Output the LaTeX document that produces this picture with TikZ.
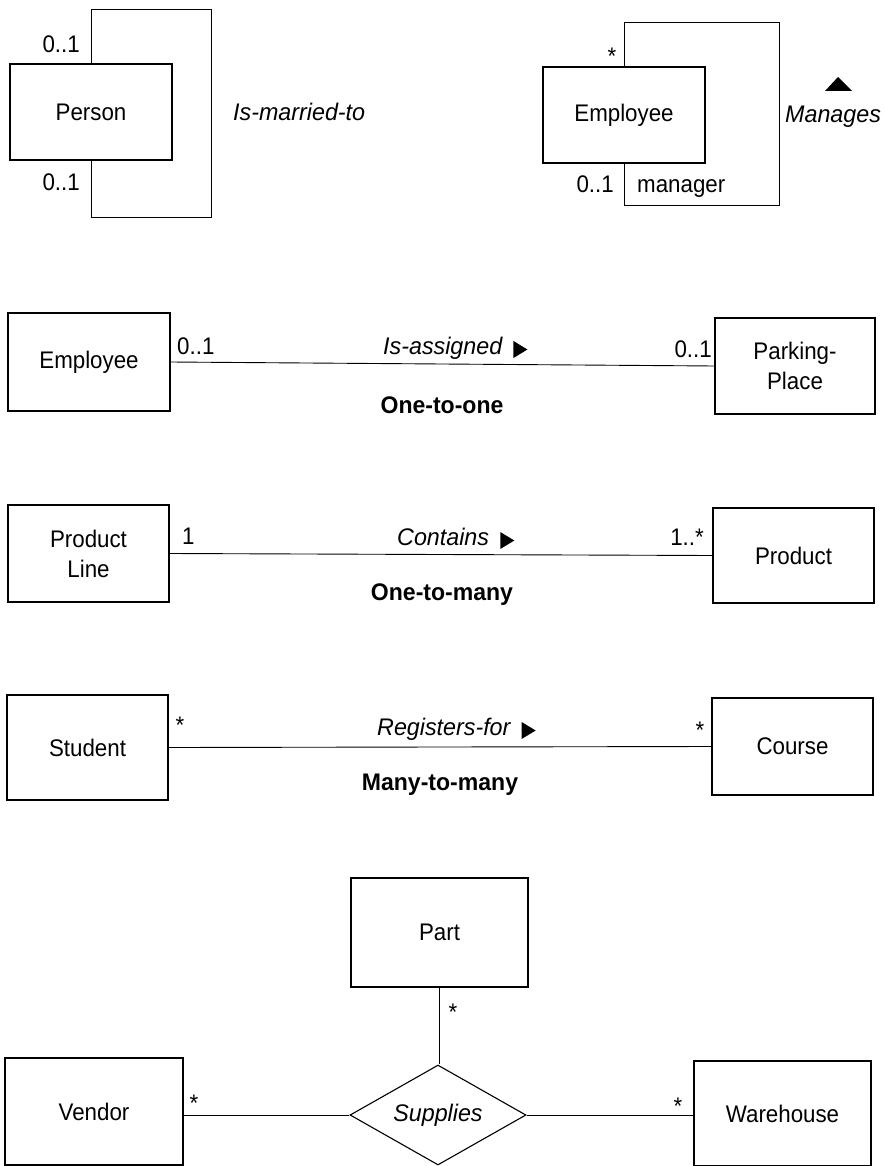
\documentclass[tikz,border=0pt]{standalone}
\usepackage{fontspec}
\setmainfont{Liberation Sans}[FakeStretch=0.93]
\newfontfamily\rolefont{Liberation Sans}[FakeStretch=0.97]
\newfontfamily\kindfont{Liberation Sans}[FakeStretch=0.96]
\usetikzlibrary{shapes.geometric,calc}
\begin{document}
\begin{tikzpicture}[x=1pt,y=-1pt,
  every node/.style={font=\fontsize{24}{30}\selectfont},
  cls/.style={draw, line width=1.1pt, inner sep=0pt, align=center},
  conn/.style={line width=0.9pt},
  mult/.style={inner sep=0pt, anchor=base},
  rolename/.style={inner sep=0pt, anchor=base west, font=\rolefont\fontsize{24}{30}\selectfont\itshape},
  kind/.style={inner sep=0pt, font=\kindfont\fontsize{24}{30}\selectfont\bfseries},
  rel/.style={draw, shape=diamond, aspect=1.76, line width=1.1pt, inner sep=0pt,
    minimum width=176pt, minimum height=100pt, font=\rolefont\fontsize{24}{30}\selectfont\itshape},
  dirmark/.style={fill=black}
]
\useasboundingbox (0,0) rectangle (885,1166);

% ---------- Is-married-to (recursive) ----------
\node[cls, minimum width=162pt, minimum height=96pt] (person) at (91,112) {Person};
\coordinate (pmA) at (211,9);
\coordinate (pmB) at (211,217);
\draw[conn] (person.north) |- (pmA) -- (pmB) -| (person.south);
\node[mult, anchor=base east] (pm1) at (80,53) {0..1};
\node[mult, anchor=base east] (pm2) at (80,191) {0..1};
\node[rolename] (pmlbl) at (233,121) {Is-married-to};

% ---------- Manages (recursive) ----------
\node[cls, minimum width=162pt, minimum height=96pt] (emp1) at (624,115) {Employee};
\coordinate (mgA) at (779,22);
\coordinate (mgB) at (779,205);
\draw[conn] (emp1.north) |- (mgA) -- (mgB) -| (emp1.south);
\node[mult] (mg1) at (612,65) {*};
\node[mult, anchor=base east] (mg2) at (614,193) {0..1};
\node[mult, anchor=base west] (mg3) at (637,193) {manager};
\node[rolename] (mglbl) at (785,123) {Manages};
\fill[dirmark] (825,91) -- (838,77) -- (852,91) -- cycle;

% ---------- One-to-one ----------
\node[cls, minimum width=162pt, minimum height=98pt] (emp2) at (89,362) {Employee};
\node[cls, minimum width=160pt, minimum height=96pt] (park) at (795,366) {Parking-\\Place};
\draw[conn] (emp2.east) -- (park.west);
\node[mult, anchor=base west] (ia1) at (177,354) {0..1};
\node[mult, anchor=base east] (ia2) at (712,357) {0..1};
\node[rolename] (isa) at (383,354) {Is-assigned};
\fill[dirmark] ($(isa.base east)+(11,-13)$) -- ($(isa.base east)+(25,-4.5)$) -- ($(isa.base east)+(11,4)$) -- cycle;
\node[kind] (k1) at (442,405) {One-to-one};

% ---------- One-to-many ----------
\node[cls, minimum width=161pt, minimum height=97pt] (pline) at (88.5,553.5) {Product\\Line};
\node[cls, minimum width=161pt, minimum height=95pt] (prod) at (793.5,555.5) {Product};
\draw[conn] (pline.east) -- (prod.west);
\node[mult, anchor=base west] (ct1) at (182,544) {1};
\node[mult, anchor=base east] (ct2) at (704,545) {1..*};
\node[rolename] (cont) at (397,545) {Contains};
\fill[dirmark] ($(cont.base east)+(11,-13)$) -- ($(cont.base east)+(25,-4.5)$) -- ($(cont.base east)+(11,4)$) -- cycle;
\node[kind] (k2) at (442,595) {One-to-many};

% ---------- Many-to-many ----------
\node[cls, minimum width=161pt, minimum height=105pt] (stud) at (87.5,747.5) {Student};
\node[cls, minimum width=161pt, minimum height=97pt] (course) at (792.5,746.5) {Course};
\draw[conn] (stud.east) -- (course.west);
\node[mult] (rf1) at (180,733) {*};
\node[mult] (rf2) at (700,738) {*};
\node[rolename] (reg) at (377,735) {Registers-for};
\fill[dirmark] ($(reg.base east)+(11,-13)$) -- ($(reg.base east)+(25,-4.5)$) -- ($(reg.base east)+(11,4)$) -- cycle;
\node[kind] (k3) at (440,785) {Many-to-many};

% ---------- Ternary: Supplies ----------
\node[cls, minimum width=177pt, minimum height=109pt] (part) at (439.5,932.5) {Part};
\node[rel] (sup) at (438,1115) {Supplies};
\node[cls, minimum width=178pt, minimum height=107pt] (vendor) at (94,1111.5) {Vendor};
\node[cls, minimum width=177pt, minimum height=105pt] (wh) at (782.5,1113.5) {Warehouse};
\draw[conn] (part.south) -- (part.south |- sup.north);
\draw[conn] (sup.west) -- (sup.west -| vendor.east);
\draw[conn] (sup.east) -- (sup.east -| wh.west);
\node[mult] (sp1) at (453,1020) {*};
\node[mult] (sp2) at (194,1111) {*};
\node[mult] (sp3) at (678,1114) {*};
\end{tikzpicture}
\end{document}
